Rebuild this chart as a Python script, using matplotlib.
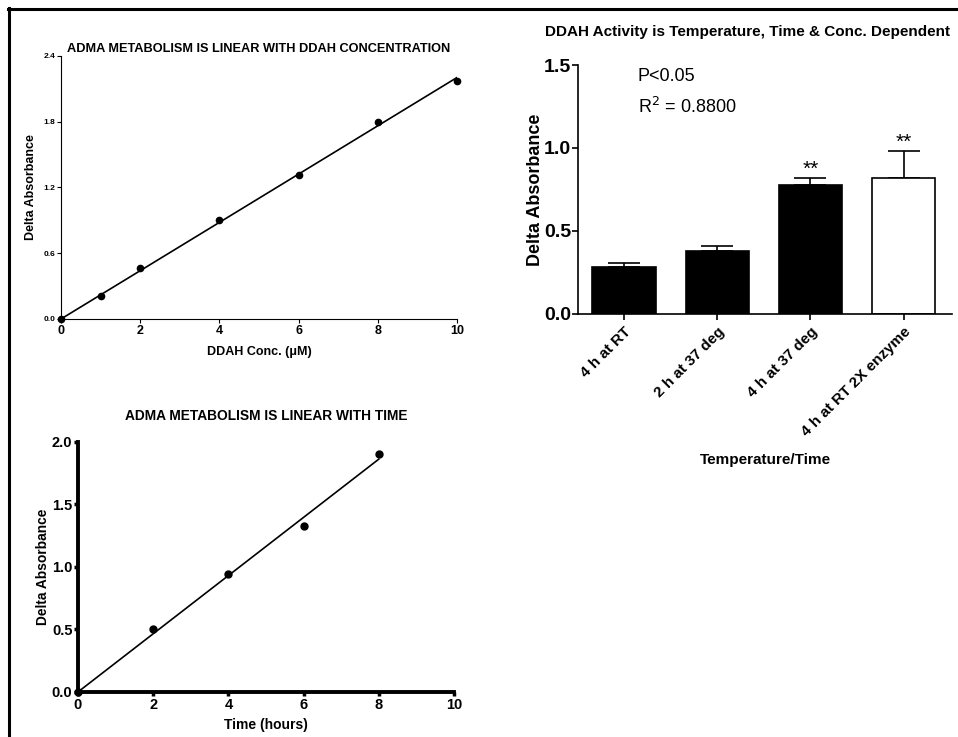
import numpy as np
import matplotlib.pyplot as plt
from matplotlib.lines import Line2D

plt.rcParams['font.family'] = ['Liberation Sans', 'DejaVu Sans']

# DDAH concentration experiment
conc = np.array([0, 1, 2, 4, 6, 8, 10])
conc_abs = np.array([0.0, 0.21, 0.465, 0.90, 1.31, 1.80, 2.17])

# time experiment
hours = np.array([0, 2, 4, 6, 8])
time_abs = np.array([0.0, 0.50, 0.94, 1.33, 1.90])

# bar chart
conditions = ["4 h at RT", "2 h at 37 deg", "4 h at 37 deg", "4 h at RT 2X enzyme"]
means = [0.28, 0.38, 0.78, 0.82]
errs = [0.03, 0.03, 0.04, 0.16]
colors = ["black", "black", "black", "white"]
stars = ["", "", "**", "**"]

fig = plt.figure(figsize=(9.58, 7.37), dpi=100)

# frame lines along top and left of the picture
fig.add_artist(Line2D([0.008, 1.0], [0.988, 0.988], color='black', lw=2.2))
fig.add_artist(Line2D([0.0095, 0.0095], [0.0, 0.989], color='black', lw=2.2))

# slope of a line forced through the origin
def origin_slope(x, y):
    return np.sum(x * y) / np.sum(x * x)

# --- top left ---
ax1 = fig.add_axes([0.0637, 0.5672, 0.4134, 0.3569])
k1 = origin_slope(conc, conc_abs)
ax1.plot([0, conc.max()], [0, k1 * conc.max()], color='black', lw=1.2)
ax1.plot(conc, conc_abs, 'o', color='black', ms=4.5, clip_on=False)
ax1.set_xlim(0, 10)
ax1.set_ylim(0, 2.4)
ax1.set_xticks([0, 2, 4, 6, 8, 10])
ax1.set_yticks([0.0, 0.6, 1.2, 1.8, 2.4])
ax1.set_yticklabels(["0.0", "0.6", "1.2", "1.8", "2.4"])
for s in ['top', 'right']:
    ax1.spines[s].set_visible(False)
for s in ['left', 'bottom']:
    ax1.spines[s].set_linewidth(0.8)
ax1.tick_params(axis='y', labelsize=6, width=0.8, length=3, pad=1)
ax1.tick_params(axis='x', labelsize=9, width=0.8, length=3, pad=1)
for lab in ax1.get_xticklabels() + ax1.get_yticklabels():
    lab.set_fontweight('bold')
ax1.set_title("ADMA METABOLISM IS LINEAR WITH DDAH CONCENTRATION",
              fontsize=9.2, fontweight='bold', pad=3)
ax1.set_xlabel("DDAH Conc. (\u03bcM)", fontsize=9, fontweight='bold', labelpad=7)
ax1.set_ylabel("Delta Absorbance", fontsize=9, fontweight='bold', labelpad=5)

# --- right: bars ---
ax2 = fig.add_axes([0.6033, 0.574, 0.3904, 0.3378])
x = np.arange(len(conditions))
ax2.bar(x, means, width=0.68, color=colors, edgecolor='black', lw=1.2, zorder=2)
ax2.errorbar(x, means, yerr=[np.zeros(len(errs)), errs], fmt='none',
             ecolor='black', elinewidth=1.2, capsize=11.5, capthick=1.2, zorder=1)
for xi, m, e, s in zip(x, means, errs, stars):
    if s:
        ax2.text(xi, m + e - 0.005, s, ha='center', va='bottom', fontsize=15)
ax2.set_xlim(-0.495, 3.52)
ax2.set_ylim(0, 1.5)
ax2.set_yticks([0.0, 0.5, 1.0, 1.5])
ax2.set_xticks(x)
ax2.set_xticklabels(conditions, rotation=45, ha='right', rotation_mode='anchor',
                    fontsize=11, fontweight='bold')
for s in ['top', 'right']:
    ax2.spines[s].set_visible(False)
for s in ['left', 'bottom']:
    ax2.spines[s].set_linewidth(1.2)
ax2.tick_params(axis='y', labelsize=14, width=1.2, length=4, pad=1)
ax2.tick_params(axis='x', width=1.2, length=4, pad=4)
for lab in ax2.get_yticklabels():
    lab.set_fontweight('bold')
ax2.set_ylabel("Delta Absorbance", fontsize=13, fontweight='bold', labelpad=0)
ax2.set_xlabel("Temperature/Time", fontsize=11, fontweight='bold', labelpad=10)
ax2.text(0.16, 0.955, "P<0.05", transform=ax2.transAxes, fontsize=13, va='center')
ax2.text(0.16, 0.83, "R$^2$ = 0.8800", transform=ax2.transAxes, fontsize=13, va='center')
fig.text(0.78, 0.957, "DDAH Activity is Temperature, Time & Conc. Dependent",
         ha='center', va='center', fontsize=11, fontweight='bold')

# --- bottom left ---
ax3 = fig.add_axes([0.0814, 0.0611, 0.3925, 0.3392])
k3 = origin_slope(hours, time_abs)
ax3.plot([0, hours.max()], [0, k3 * hours.max()], color='black', lw=1.2)
ax3.plot(hours, time_abs, 'o', color='black', ms=5, clip_on=False)
ax3.set_xlim(0, 10)
ax3.set_ylim(0, 2.0)
ax3.set_xticks([0, 2, 4, 6, 8, 10])
ax3.set_yticks([0.0, 0.5, 1.0, 1.5, 2.0])
for s in ['top', 'right']:
    ax3.spines[s].set_visible(False)
for s in ['left', 'bottom']:
    ax3.spines[s].set_linewidth(2.8)
ax3.tick_params(axis='both', labelsize=10.5, width=2.5, length=3, pad=1)
for lab in ax3.get_xticklabels() + ax3.get_yticklabels():
    lab.set_fontweight('bold')
ax3.set_title("ADMA METABOLISM IS LINEAR WITH TIME", fontsize=9.9,
              fontweight='bold', pad=16)
ax3.set_xlabel("Time (hours)", fontsize=10, fontweight='bold', labelpad=5)
ax3.set_ylabel("Delta Absorbance", fontsize=9.9, fontweight='bold', labelpad=1)

fig.savefig("out.png", dpi=100)
